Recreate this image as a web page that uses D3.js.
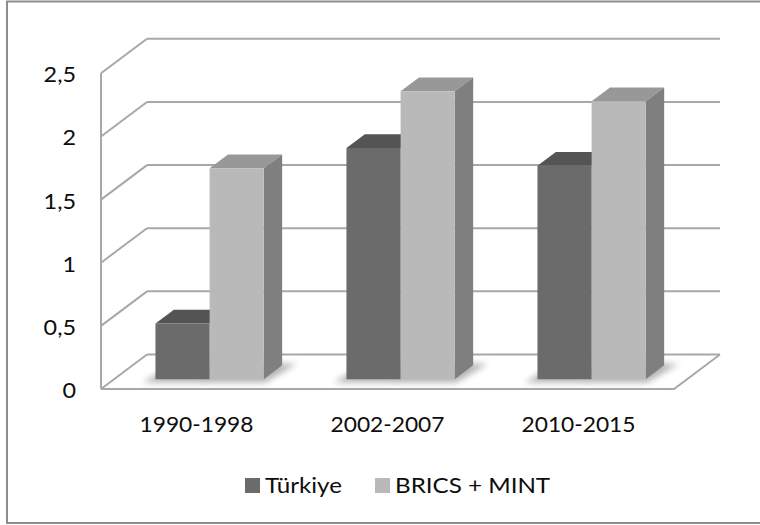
<!DOCTYPE html>
<html>
<head>
<meta charset="utf-8">
<script src="https://cdn.jsdelivr.net/npm/d3@7"></script>
<style>
  html, body { margin: 0; padding: 0; background: #fff; }
  svg { display: block; }
  text { font-family: Lato, "Open Sans", sans-serif; fill: #0d0d0d; }
</style>
</head>
<body>
<svg id="chart" width="760" height="525"></svg>
<script>
// Periods on the category axis
const categories = ["1990-1998", "2002-2007", "2010-2015"];
// Series names and values per period
const seriesNames = ["Türkiye", "BRICS + MINT"];
const turkiye = [0.44, 1.83, 1.69];
const bricsMint = [1.67, 2.28, 2.2];
// Value axis ticks
const yTicks = [0, 0.5, 1, 1.5, 2, 2.5];
const yTickLabels = ["0", "0,5", "1", "1,5", "2", "2,5"];

const values = [turkiye, bricsMint];

// Face colours per series: front, top, side
const palette = [
  { front: "#6b6b6b", top: "#545454", side: "#5f5f5f" },
  { front: "#b9b9b9", top: "#989898", side: "#7f7f7f" }
];

const svg = d3.select("#chart");
const TEXT_SX = 1.14; // horizontal stretch of the lettering

// Oblique 3D frame: front plane origin, size and depth vector
const frame = { x0: 101, y0: 389, w: 573, h: 315.7, dx: 46, dy: -34.5 };
const barDepth = [0.285, 0.685]; // bars occupy this slice of the depth

const x = d3.scaleBand().domain(categories).range([0, frame.w]).padding(0);
const xs = d3.scaleBand().domain(seriesNames)
  .range([x.bandwidth() * 0.2165, x.bandwidth() * 0.7835]).padding(0);
const y = d3.scaleLinear().domain([0, 2.5]).range([0, frame.h]);

// Project (horizontal offset, value, depth fraction) to screen
function P(px, v, f) {
  return [frame.x0 + px + f * frame.dx, frame.y0 - y(v) + f * frame.dy];
}
const poly = pts => "M" + pts.map(p => p.join(",")).join("L") + "Z";

// Outer border
svg.append("rect")
  .attr("x", 7).attr("y", 1.5).attr("width", 770).attr("height", 521.5)
  .attr("fill", "none").attr("stroke", "#8d8d8d").attr("stroke-width", 2);

const grid = svg.append("g")
  .attr("fill", "none").attr("stroke", "#a8a8a8").attr("stroke-width", 2);

// Back-wall gridlines and side-wall diagonals
yTicks.forEach(t => {
  grid.append("path").attr("d", "M" + P(0, t, 1).join(",") + "L" + P(frame.w, t, 1).join(","));
  grid.append("path").attr("d", "M" + P(0, t, 0).join(",") + "L" + P(0, t, 1).join(","));
});
// Side-wall front edge (value axis)
grid.append("path").attr("d", "M" + P(0, 0, 0).join(",") + "L" + P(0, 2.5, 0).join(","));
// Floor front and right edges
grid.append("path").attr("d",
  "M" + P(0, 0, 0).join(",") + "L" + P(frame.w, 0, 0).join(",") + "L" + P(frame.w, 0, 1).join(","));

// Soft floor shadows under each bar
const defs = svg.append("defs");
defs.append("filter").attr("id", "soft")
  .attr("x", "-30%").attr("y", "-60%").attr("width", "160%").attr("height", "220%")
  .append("feGaussianBlur").attr("stdDeviation", 3);

const shadows = svg.append("g").attr("filter", "url(#soft)").attr("fill", "#9a9a9a").attr("opacity", 0.75);
categories.forEach((c, ci) => {
  seriesNames.forEach((s, si) => {
    const left = x(c) + xs(s) - 8, right = x(c) + xs(s) + xs.bandwidth() + 6;
    const f1 = barDepth[0] - 0.1, f2 = barDepth[1] + 0.05;
    shadows.append("path").attr("d", poly([
      P(left, 0, f1), P(right, 0, f1), P(right + 6, 0, f2), P(left + 6, 0, f2)
    ]));
  });
});

// Bars as boxes: top, side, then front face
const bars = svg.append("g");
categories.forEach((c, ci) => {
  seriesNames.forEach((s, si) => {
    const v = values[si][ci];
    const l = x(c) + xs(s), r = l + xs.bandwidth();
    const [f1, f2] = barDepth;
    const col = palette[si];
    const g = bars.append("g");
    g.append("path").attr("fill", col.top)
      .attr("d", poly([P(l, v, f1), P(r, v, f1), P(r, v, f2), P(l, v, f2)]));
    g.append("path").attr("fill", col.side)
      .attr("d", poly([P(r, 0, f1), P(r, v, f1), P(r, v, f2), P(r, 0, f2)]));
    g.append("path").attr("fill", col.front)
      .attr("d", poly([P(l, 0, f1), P(r, 0, f1), P(r, v, f1), P(l, v, f1)]));
  });
});

// Value axis labels
const yLab = svg.append("g").attr("font-size", 20.5).attr("text-anchor", "end");
yTicks.forEach((t, i) => {
  const p = P(0, t, 0);
  yLab.append("text")
    .attr("transform", `translate(${p[0] - 25},${p[1] + 9}) scale(${TEXT_SX},1)`)
    .text(yTickLabels[i]);
});

// Category labels
const xLab = svg.append("g").attr("font-size", 20.5).attr("text-anchor", "middle");
categories.forEach(c => {
  const p = P(x(c) + x.bandwidth() / 2, 0, 0);
  xLab.append("text")
    .attr("transform", `translate(${p[0]},${p[1] + 43}) scale(${TEXT_SX - 0.03},1)`)
    .text(c);
});

// Legend
const legend = svg.append("g").attr("font-size", 20.5);
const legendX = [245, 375];
seriesNames.forEach((s, i) => {
  legend.append("rect").attr("x", legendX[i]).attr("y", 478)
    .attr("width", 15).attr("height", 15).attr("fill", palette[i].front);
  legend.append("text")
    .attr("transform", `translate(${legendX[i] + 20},${493}) scale(1.18,1)`)
    .text(s);
});
</script>
</body>
</html>
